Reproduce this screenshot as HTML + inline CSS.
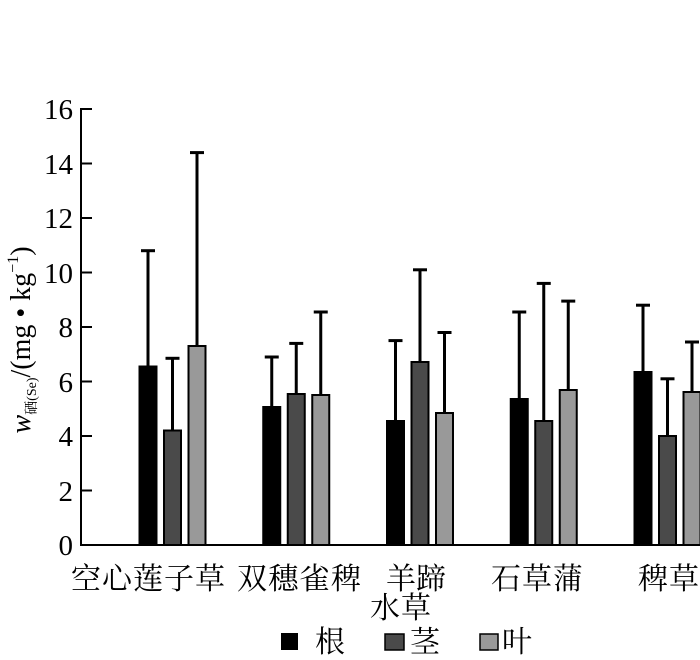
<!DOCTYPE html><html><head><meta charset="utf-8"><style>body{margin:0;background:#fff}</style></head><body>
<svg width="700" height="655" xmlns="http://www.w3.org/2000/svg" font-family="Liberation Serif, Noto Serif CJK SC, serif">
<g stroke="#000" stroke-width="2">
<line x1="81" y1="108" x2="81" y2="546"/><line x1="80" y1="545" x2="700" y2="545"/>
<line x1="81" y1="109" x2="92" y2="109"/><line x1="81" y1="163.5" x2="92" y2="163.5"/><line x1="81" y1="218" x2="92" y2="218"/><line x1="81" y1="272.5" x2="92" y2="272.5"/><line x1="81" y1="327" x2="92" y2="327"/><line x1="81" y1="381.5" x2="92" y2="381.5"/><line x1="81" y1="436" x2="92" y2="436"/><line x1="81" y1="490.5" x2="92" y2="490.5"/>
</g>
<g font-size="29" text-anchor="end">
<text x="73" y="119">16</text><text x="73" y="174">14</text><text x="73" y="228">12</text><text x="73" y="283">10</text><text x="73" y="337">8</text><text x="73" y="392">6</text><text x="73" y="446">4</text><text x="73" y="501">2</text><text x="73" y="555">0</text>
</g>
<text transform="translate(30,340) rotate(-90)" font-size="28" text-anchor="middle"><tspan font-style="italic">w</tspan><tspan font-size="14" dy="6">硒(Se)</tspan><tspan dy="-6">/(mg • kg</tspan><tspan font-size="16" dy="-12">−1</tspan><tspan dy="12">)</tspan></text>
<g stroke="#000" stroke-width="3">
<line x1="148" y1="366.5" x2="148" y2="250.7"/><line x1="141" y1="250.7" x2="155" y2="250.7"/>
<line x1="172.5" y1="430.5" x2="172.5" y2="358.3"/><line x1="165.5" y1="358.3" x2="179.5" y2="358.3"/>
<line x1="197" y1="346" x2="197" y2="152.6"/><line x1="190" y1="152.6" x2="204" y2="152.6"/>
<line x1="271.75" y1="407" x2="271.75" y2="357"/><line x1="264.75" y1="357" x2="278.75" y2="357"/>
<line x1="296.25" y1="394" x2="296.25" y2="343.4"/><line x1="289.25" y1="343.4" x2="303.25" y2="343.4"/>
<line x1="320.75" y1="395" x2="320.75" y2="312"/><line x1="313.75" y1="312" x2="327.75" y2="312"/>
<line x1="395.5" y1="421" x2="395.5" y2="340.6"/><line x1="388.5" y1="340.6" x2="402.5" y2="340.6"/>
<line x1="420" y1="362" x2="420" y2="269.8"/><line x1="413" y1="269.8" x2="427" y2="269.8"/>
<line x1="444.5" y1="413" x2="444.5" y2="332.5"/><line x1="437.5" y1="332.5" x2="451.5" y2="332.5"/>
<line x1="519.25" y1="399" x2="519.25" y2="312"/><line x1="512.25" y1="312" x2="526.25" y2="312"/>
<line x1="543.75" y1="421" x2="543.75" y2="283.4"/><line x1="536.75" y1="283.4" x2="550.75" y2="283.4"/>
<line x1="568.25" y1="390" x2="568.25" y2="301.1"/><line x1="561.25" y1="301.1" x2="575.25" y2="301.1"/>
<line x1="643" y1="372" x2="643" y2="305.2"/><line x1="636" y1="305.2" x2="650" y2="305.2"/>
<line x1="667.5" y1="436" x2="667.5" y2="378.8"/><line x1="660.5" y1="378.8" x2="674.5" y2="378.8"/>
<line x1="692" y1="392" x2="692" y2="342"/><line x1="685" y1="342" x2="699" y2="342"/>
</g>
<g stroke="#000" stroke-width="2">
<rect x="139.5" y="366.5" width="17" height="178.5" fill="#000"/>
<rect x="164" y="430.5" width="17" height="114.5" fill="#4a4a4a"/>
<rect x="188.5" y="346" width="17" height="199" fill="#999"/>
<rect x="263.25" y="407" width="17" height="138" fill="#000"/>
<rect x="287.75" y="394" width="17" height="151" fill="#4a4a4a"/>
<rect x="312.25" y="395" width="17" height="150" fill="#999"/>
<rect x="387" y="421" width="17" height="124" fill="#000"/>
<rect x="411.5" y="362" width="17" height="183" fill="#4a4a4a"/>
<rect x="436" y="413" width="17" height="132" fill="#999"/>
<rect x="510.75" y="399" width="17" height="146" fill="#000"/>
<rect x="535.25" y="421" width="17" height="124" fill="#4a4a4a"/>
<rect x="559.75" y="390" width="17" height="155" fill="#999"/>
<rect x="634.5" y="372" width="17" height="173" fill="#000"/>
<rect x="659" y="436" width="17" height="109" fill="#4a4a4a"/>
<rect x="683.5" y="392" width="17" height="153" fill="#999"/>
</g>
<g font-family="Noto Serif CJK SC, serif" font-size="30">
<text x="71" y="589" textLength="154" lengthAdjust="spacing">空心莲子草</text>
<text x="237" y="589" textLength="124" lengthAdjust="spacing">双穗雀稗</text>
<text x="386" y="589" textLength="60" lengthAdjust="spacing">羊蹄</text>
<text x="370" y="618" textLength="61" lengthAdjust="spacing">水草</text>
<text x="491" y="589" textLength="92" lengthAdjust="spacing">石草蒲</text>
<text x="638" y="589" textLength="61" lengthAdjust="spacing">稗草</text>
<rect x="281" y="633" width="17" height="17" fill="#000"/><text x="315" y="652">根</text>
<rect x="385" y="634" width="19" height="16" fill="#4a4a4a" stroke="#000" stroke-width="1.5"/><text x="410" y="652">茎</text>
<rect x="480" y="634" width="18" height="16" fill="#999" stroke="#000" stroke-width="1.5"/><text x="502" y="652">叶</text>
</g>
</svg></body></html>
